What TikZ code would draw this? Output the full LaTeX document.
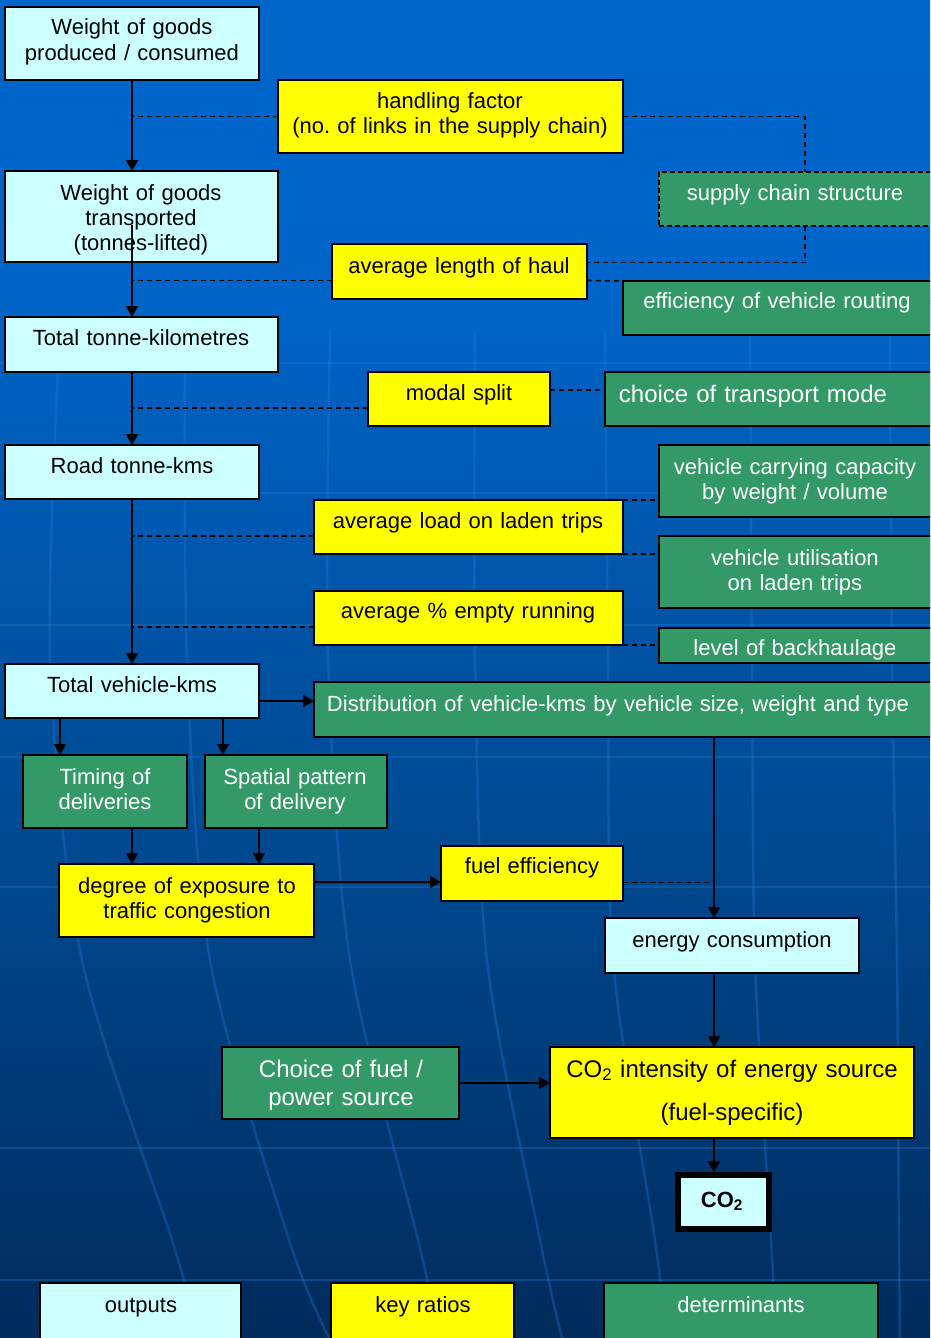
\documentclass[tikz,border=0pt]{standalone}
\usepackage{fontspec}
\setmainfont{Liberation Sans}
\usetikzlibrary{arrows.meta,calc}
\frenchspacing
\definecolor{cyanbox}{HTML}{CCFFFF}
\definecolor{yelbox}{HTML}{FFFF00}
\definecolor{grnbox}{HTML}{339966}
\definecolor{bgA}{HTML}{0066CC}
\definecolor{bgB}{HTML}{0064C8}
\definecolor{bgC}{HTML}{0055A8}
\definecolor{bgD}{HTML}{00468C}
\definecolor{bgE}{HTML}{003670}
\definecolor{bgF}{HTML}{002B5C}
\definecolor{gridc}{HTML}{2A80DA}
\tikzset{
  boxbase/.style={draw=black, line width=1.8pt, inner sep=0pt, outer sep=0pt, anchor=north west},
  outbox/.style={boxbase, fill=cyanbox},
  ratbox/.style={boxbase, fill=yelbox},
  detbox/.style={boxbase, fill=grnbox},
  lbl/.style={anchor=base, inner sep=0pt, text width=700pt, align=center, font=\fontsize{22}{25}\selectfont},
  dlbl/.style={lbl, text=white},
  flow/.style={line width=2pt, -{Triangle[length=11pt,width=12pt]}},
  link/.style={line width=1.6pt, dash pattern=on 5pt off 4pt},
  gridline/.style={draw=gridc, line width=2.5pt, opacity=0.3},
}
\newcommand\mybox[6]{\node[#2, minimum width={(#5-#3)*1pt}, minimum height={(#6-#4)*1pt}] (#1) at (#3,#4) {};}
\newcommand\tx[5]{\node[#1] (#2) at (#3,#4) {#5};}
\begin{document}
\begin{tikzpicture}[x=1pt,y=-1pt]
\clip (0,0) rectangle (930,1338);
% background
\shade[top color=bgA, bottom color=bgB] (0,-1) rectangle (930,301);
\shade[top color=bgB, bottom color=bgC] (0,300) rectangle (930,601);
\shade[top color=bgC, bottom color=bgD] (0,600) rectangle (930,901);
\shade[top color=bgD, bottom color=bgE] (0,900) rectangle (930,1151);
\shade[top color=bgE, bottom color=bgF] (0,1150) rectangle (930,1340);
\foreach \yy in {363,493,625,757,887,1148,1280} \path[gridline] (0,\yy) -- (930,\yy);
\path[gridline] plot[smooth] coordinates {(60,330) (50,660) (82,960) (172,1240) (200,1338)};
\path[gridline] plot[smooth] coordinates {(185,330) (187,660) (210,960) (289,1240) (329,1338)};
\path[gridline] plot[smooth] coordinates {(330,330) (328,660) (350,960) (418,1240) (440,1338)};
\path[gridline] plot[smooth] coordinates {(475,330) (475,660) (487,960) (540,1240) (562,1338)};
\path[gridline] plot[smooth] coordinates {(605,330) (608,660) (613,960) (655,1240) (667,1338)};
\path[gridline] plot[smooth] coordinates {(750,330) (752,660) (755,960) (771,1240) (777,1338)};
\path[gridline] plot[smooth] coordinates {(890,330) (892,660) (897,960) (899,1240) (900,1338)};
% boxes
\mybox{w1}{outbox}{5}{7}{259}{80}
\mybox{hf}{ratbox}{278}{80}{623}{153}
\mybox{scs}{detbox,dash pattern=on 5pt off 3pt}{659}{172}{940}{226}
\mybox{w2}{outbox}{5}{171}{278}{262}
\mybox{alh}{ratbox}{332}{244}{587}{299}
\mybox{evr}{detbox}{623}{281}{940}{335}
\mybox{ttk}{outbox}{5}{317}{278}{372}
\mybox{ms}{ratbox}{368}{372}{550}{426}
\mybox{ctm}{detbox}{605}{372}{940}{426}
\mybox{road}{outbox}{5}{445}{259}{499}
\mybox{vcc}{detbox}{659}{445}{940}{517}
\mybox{al}{ratbox}{314}{500}{623}{554}
\mybox{vu}{detbox}{659}{536}{940}{608}
\mybox{ae}{ratbox}{314}{591}{623}{645}
\mybox{bh}{detbox}{659}{628}{940}{663}
\mybox{tvk}{outbox}{5}{664}{259}{718}
\mybox{dist}{detbox}{314}{682}{940}{737}
\mybox{tim}{detbox}{23}{755}{187}{828}
\mybox{sp}{detbox}{205}{755}{387}{828}
\mybox{deg}{ratbox}{59}{864}{314}{937}
\mybox{fe}{ratbox}{441}{846}{623}{901}
\mybox{ec}{outbox}{605}{918}{859}{973}
\mybox{cf}{detbox}{222}{1047}{459}{1119}
\mybox{ci}{ratbox}{550}{1047}{914}{1138}
\mybox{co}{outbox,line width=5.5pt}{678}{1175}{769}{1229}
\mybox{lo}{outbox}{40}{1283}{241}{1350}
\mybox{lk}{ratbox}{331}{1283}{514}{1350}
\mybox{ld}{detbox}{604}{1283}{878}{1350}
% texts
\tx{lbl}{t1}{132}{35}{Weight of goods\\produced / consumed}
\tx{lbl}{t2}{450}{108}{handling factor\\(no. of links in the supply chain)}
\tx{dlbl}{t3}{795}{200}{supply chain structure}
\tx{lbl}{t4}{141}{200}{Weight of goods\\transported\\(tonnes-lifted)}
\tx{lbl}{t5}{459}{273}{average length of haul}
\tx{dlbl}{t6}{777}{308}{efficiency of vehicle routing}
\tx{lbl}{t7}{141}{345}{Total tonne-kilometres}
\tx{lbl}{t8}{459}{400}{modal split}
\tx{dlbl,font=\fontsize{24}{28}\selectfont}{t9}{753}{402}{choice of transport mode}
\tx{lbl}{t10}{132}{473}{Road tonne-kms}
\tx{dlbl}{t11}{795}{474}{vehicle carrying capacity\\by weight / volume}
\tx{lbl}{t12}{468}{528}{average load on laden trips}
\tx{dlbl}{t13}{795}{565}{vehicle utilisation\\on laden trips}
\tx{lbl}{t14}{468}{618}{average \% empty running}
\begin{scope}
\clip (659,628) rectangle (940,662);
\tx{dlbl}{t15}{795}{655}{level of backhaulage}
\end{scope}
\tx{lbl}{t16}{132}{692}{Total vehicle-kms}
\tx{dlbl}{t17}{618}{711}{Distribution of vehicle-kms by vehicle size, weight and type}
\tx{dlbl}{t18}{105}{784}{Timing of\\deliveries}
\tx{dlbl}{t19}{295}{784}{Spatial pattern\\of delivery}
\tx{lbl}{t20}{187}{893}{degree of exposure to\\traffic congestion}
\tx{lbl}{t21}{532}{873}{fuel efficiency}
\tx{lbl}{t22}{732}{947}{energy consumption}
\tx{dlbl,font=\fontsize{24}{28}\selectfont}{t23}{341}{1077}{Choice of fuel /\\power source}
\tx{lbl,font=\fontsize{24}{43}\selectfont}{t24}{732}{1077}{CO\textsubscript{2} intensity of energy source\\(fuel-specific)}
\tx{lbl,font=\bfseries\fontsize{22}{25}\selectfont}{t25}{722}{1207}{CO\textsubscript{2}}
\tx{lbl}{t26}{141}{1312}{outputs}
\tx{lbl}{t27}{423}{1312}{key ratios}
\tx{dlbl}{t28}{741}{1312}{determinants}
% connectors
\coordinate (sj) at (805,0);
\draw[flow] (w1.south) -- (w1.south |- w2.north);
\draw[link] (hf.west) -- (hf.west -| w1.south);
\draw[link] (hf.east) -| (sj |- scs.north);
\draw[link] (sj |- scs.south) |- ([yshift=9pt]alh.east);
\draw[link] ([yshift=-9pt]alh.east) -- (evr.north west);
\draw[link] ([yshift=-9pt]alh.west) -- ([yshift=-9pt]alh.west -| w1.south);
\coordinate (b1) at ($(w1.south |- w2.center)+(0,8)$);
\draw[flow] (b1) -- (b1 |- ttk.north);
\draw[flow] (w1.south |- ttk.south) -- (road.north);
\draw[link] ([yshift=-9pt]ms.west) -- ([yshift=-9pt]ms.west -| road.north);
\draw[link] ([yshift=9pt]ms.east) -- ([yshift=9pt]ms.east -| ctm.west);
\draw[flow] (road.south) -- (tvk.north);
\draw[link] ([yshift=-9pt]al.west) -- ([yshift=-9pt]al.west -| road.south);
\draw[link] ([yshift=-9pt]ae.west) -- ([yshift=-9pt]ae.west -| road.south);
\draw[link] (al.north east) -- (al.north east -| vcc.west);
\draw[link] (al.south east) -- (al.south east -| vu.west);
\draw[link] (ae.south east) -- (ae.south east -| bh.west);
\draw[flow] ([yshift=-10pt]tvk.east) -- ([yshift=-10pt]tvk.east -| dist.west);
\coordinate (a1) at ($(tvk.south west)+(55,0)$);
\coordinate (a2) at ($(tvk.south west)+(218,0)$);
\draw[flow] (a1) -- (a1 |- tim.north);
\draw[flow] (a2) -- (a2 |- sp.north);
\coordinate (a3) at ($(tim.south)+(27,0)$);
\coordinate (a4) at ($(sp.south)+(-37,0)$);
\draw[flow] (a3) -- (a3 |- deg.north);
\draw[flow] (a4) -- (a4 |- deg.north);
\coordinate (a5) at ($(deg.north east)+(0,18)$);
\draw[flow] (a5) -- (a5 -| fe.west);
\coordinate (ex) at ($(dist.south west)+(400,0)$);
\draw[flow] (ex) -- (ex |- ec.north);
\coordinate (a6) at ($(fe.east)+(0,9)$);
\draw[link] (a6) -- (a6 -| ex);
\draw[flow] (ex |- ec.south) -- (ex |- ci.north);
\draw[flow] (cf.east) -- (cf.east -| ci.west);
\draw[flow, shorten >=2.75pt] (ex |- ci.south) -- (ex |- co.north);
\end{tikzpicture}
\end{document}
